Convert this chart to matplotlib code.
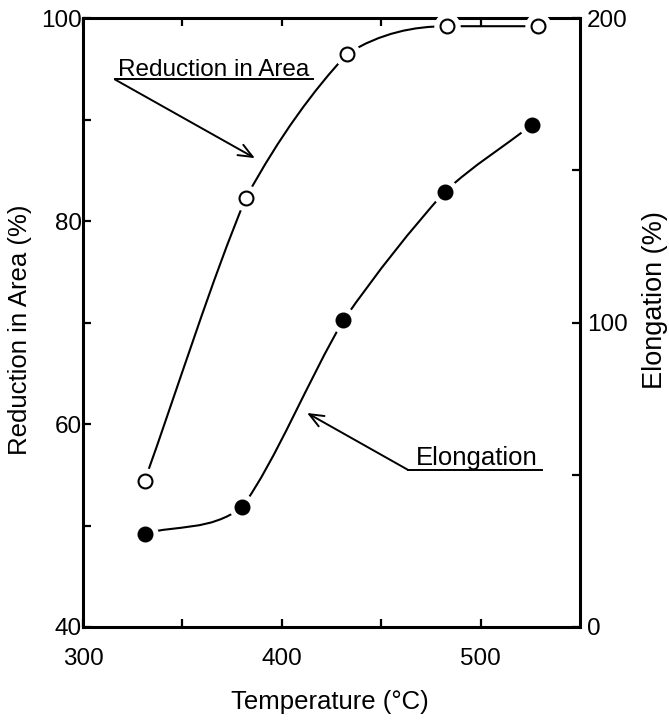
"""
Reduction in area and elongation against test temperature (twin y axes).
"""

import matplotlib
matplotlib.use("Agg")
import matplotlib.pyplot as plt
import numpy as np
from matplotlib.patches import PathPatch
from matplotlib.path import Path

# --- data --------------------------------------------------------------
ra_temp = [331, 382, 433, 483, 529]
ra_value = [54.4, 82.3, 96.5, 99.2, 99.2]        # reduction in area (%)

el_temp = [331, 380, 431, 482, 526]
el_value = [30.7, 39.3, 100.7, 143.0, 165.0]    # elongation (%)

x_major = [300, 400, 500]
x_minor = [350, 450]
left_major = [40, 60, 80, 100]
left_minor = [50, 70, 90]
right_major = [0, 100, 200]
right_minor = [50, 150]

FONT = ["Liberation Sans", "DejaVu Sans"]
plt.rcParams["font.family"] = FONT
plt.rcParams["font.size"] = 17


def smooth_path(xs, ys, bias=0.3):
    """Hand-drawn looking Bezier path through the points (data coords).

    Each point gets an incoming and an outgoing tangent, leaning towards
    the neighbouring segment, so small kinks hide under the markers.
    """
    xs = np.asarray(xs, float)
    ys = np.asarray(ys, float)
    d = np.diff(ys) / np.diff(xs)
    n = len(xs)
    m_in = np.empty(n)
    m_out = np.empty(n)
    m_out[0], m_in[-1] = d[0], d[-1]
    for k in range(1, n - 1):
        if d[k - 1] * d[k] <= 0:
            m_in[k] = m_out[k] = 0.0
        else:
            m_in[k] = (1 - bias) * d[k - 1] + bias * d[k]
            m_out[k] = bias * d[k - 1] + (1 - bias) * d[k]
    verts = [(xs[0], ys[0])]
    codes = [Path.MOVETO]
    for k in range(n - 1):
        h = (xs[k + 1] - xs[k]) / 3.0
        verts += [(xs[k] + h, ys[k] + h * m_out[k]),
                  (xs[k + 1] - h, ys[k + 1] - h * m_in[k + 1]),
                  (xs[k + 1], ys[k + 1])]
        codes += [Path.CURVE4] * 3
    return Path(verts, codes)


def draw_series(ax, xs, ys, filled):
    ax.add_patch(PathPatch(smooth_path(xs, ys), fill=False, lw=1.5,
                           ec="black", zorder=2, clip_on=False))
    # white halo leaves the small gap between curve and marker
    ax.plot(xs, ys, ls="none", marker="o", ms=19, mfc="white", mec="none",
            zorder=3, clip_on=False)
    ax.plot(xs, ys, ls="none", marker="o", ms=10, mew=1.5, mec="black",
            mfc="black" if filled else "white", zorder=4, clip_on=False)


fig = plt.figure(figsize=(6.69, 7.24), dpi=100)
ax1 = fig.add_axes([0.124, 0.134, 0.743, 0.841])
ax2 = ax1.twinx()

ax1.set_xlim(300, 550)
ax1.set_ylim(40, 100)
ax2.set_ylim(0, 200)

draw_series(ax1, ra_temp, ra_value, filled=False)
draw_series(ax2, el_temp, el_value, filled=True)

# spines: ax1 keeps left/bottom/top, ax2 only the right one
for side in ["top", "left", "bottom"]:
    ax2.spines[side].set_visible(False)
ax1.spines["right"].set_visible(False)
for sp in list(ax1.spines.values()) + [ax2.spines["right"]]:
    sp.set_linewidth(2.2)

ax1.set_xticks(x_major)
ax1.set_xticks(x_minor, minor=True)
ax1.set_yticks(left_major)
ax1.set_yticks(left_minor, minor=True)
ax2.set_yticks(right_major)
ax2.set_yticks(right_minor, minor=True)

for which in ["major", "minor"]:
    ax1.tick_params(axis="x", which=which, direction="in", length=6,
                    width=1.6, top=True, pad=15)
    ax1.tick_params(axis="y", which=which, direction="in", length=6,
                    width=1.6, right=False, pad=1)
    ax2.tick_params(axis="y", which=which, direction="in", length=6,
                    width=1.6, pad=5)
ax1.tick_params(labelsize=17.5)
ax2.tick_params(labelsize=17.5)

ax1.set_xlabel("Temperature (°C)", fontsize=18.5)
ax1.xaxis.set_label_coords(0.497, -0.103)
ax1.set_ylabel("Reduction in Area (%)", fontsize=18.5)
ax1.yaxis.set_label_coords(-0.103, 0.488)
ax2.set_ylabel("Elongation (%)", fontsize=19.5)
ax2.yaxis.set_label_coords(1.125, 0.537)

# --- annotations ---------------------------------------------------------
arrow = dict(arrowstyle="->,head_length=0.6,head_width=0.25", lw=1.4,
             color="black", shrinkA=0, shrinkB=0)

ax1.annotate("", xy=(386.5, 86.2), xytext=(316.1, 93.95), arrowprops=arrow)
ax1.plot([316.1, 415.7], [93.95, 93.95], color="black", lw=1.4)
ax1.text(317.6, 94.3, "Reduction in Area", fontsize=17.5, va="baseline")

ax2.annotate("", xy=(412.7, 70.3), xytext=(463.5, 51.6), arrowprops=arrow)
ax2.plot([463.5, 530.9], [51.6, 51.6], color="black", lw=1.4)
ax2.text(467.5, 53.3, "Elongation", fontsize=18.5, va="baseline")

fig.savefig("out.png", dpi=100)
plt.close(fig)
